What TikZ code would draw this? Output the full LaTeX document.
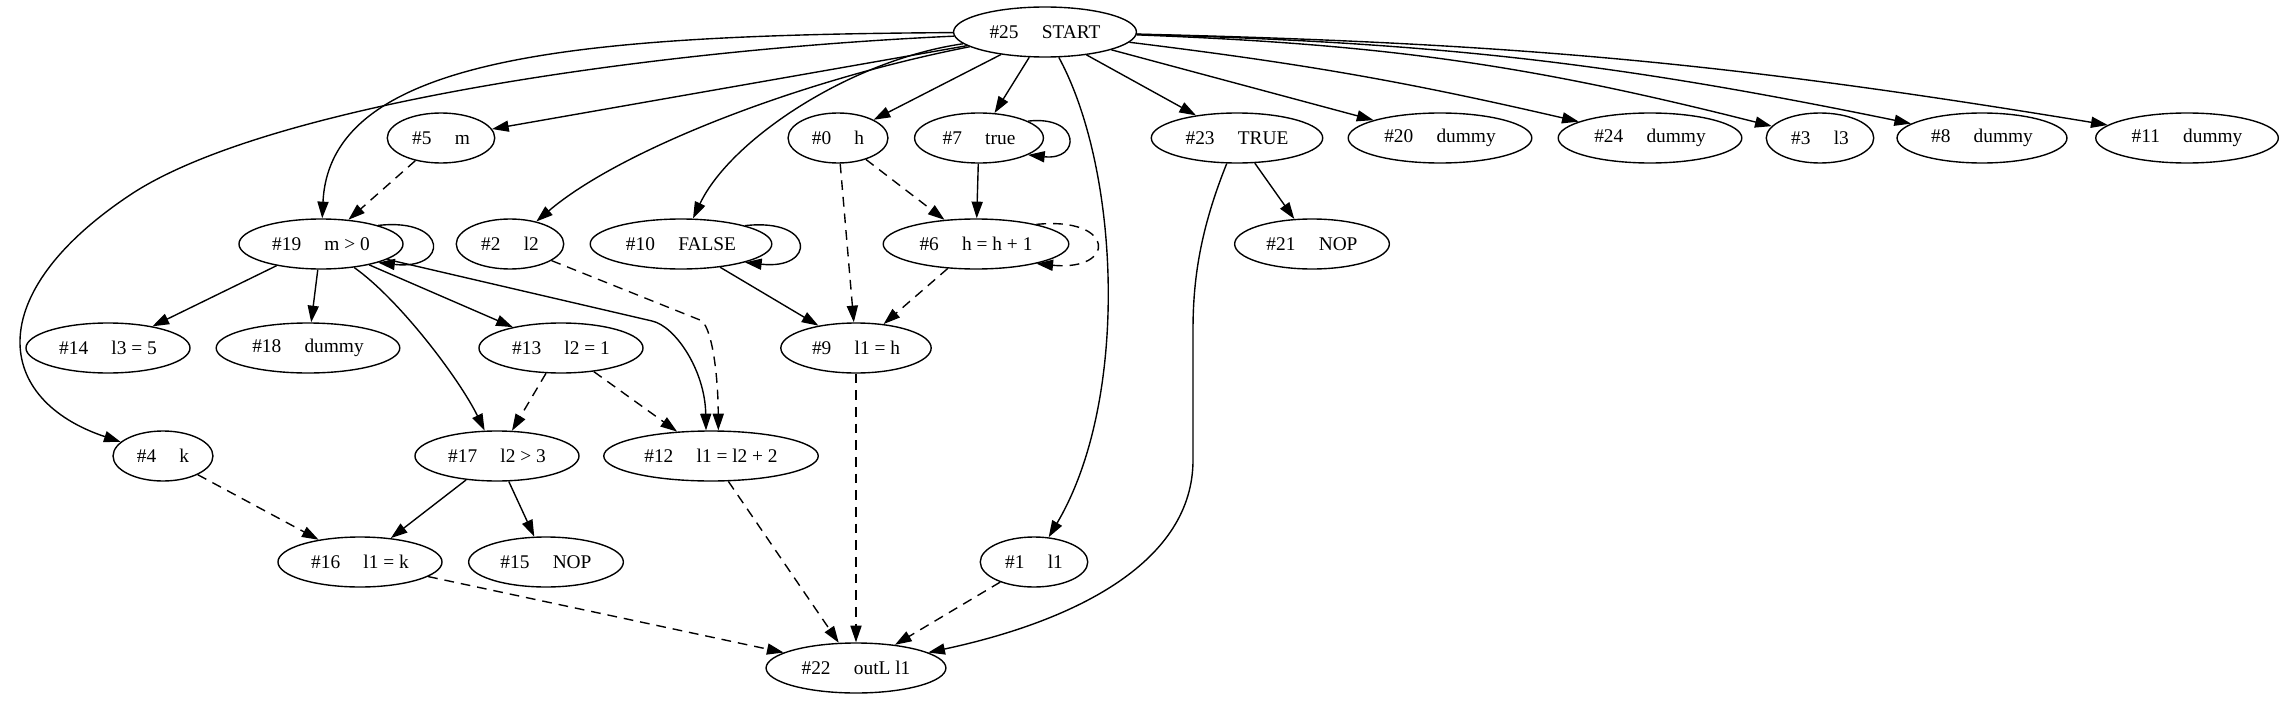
\documentclass[tikz,border=0pt]{standalone}
\usepackage{fontspec}
\setmainfont{Liberation Serif}
\usetikzlibrary{arrows.meta,shapes.geometric}

\begin{document}
\begin{tikzpicture}[
        x=0.72bp, y=-0.72bp,
        % Style for the statement nodes: ellipse, black outline
        stmt/.style={
            ellipse,
            draw=black,
            line width=1bp,
            minimum width=54bp,
            minimum height=36bp,
            inner xsep=6.6bp,
            inner ysep=2bp,
            font=\fontsize{14}{16}\selectfont
        },
        % Style for control edges: solid
        cfedge/.style={
            draw=black,
            line width=1bp,
            -{Triangle[length=12bp,width=8bp]}
        },
        % Style for data edges: dashed
        dfedge/.style={
            cfedge,
            dash pattern=on 7bp off 5bp
        }
    ]
        \useasboundingbox (0,0) rectangle (2283,701);

        % --- NODES ---
        % Root
        \node[stmt] (n25) at (1045,32) {\#25\hspace{1.2em}START};

        % Row 1
        \node[stmt] (n5)  at (441,138)  {\#5\hspace{1.2em}m};
        \node[stmt] (n0)  at (838,138)  {\#0\hspace{1.2em}h};
        \node[stmt] (n7)  at (979,138)  {\#7\hspace{1.2em}true};
        \node[stmt] (n23) at (1237,138) {\#23\hspace{1.2em}TRUE};
        \node[stmt] (n20) at (1440,138) {\#20\hspace{1.2em}dummy};
        \node[stmt] (n24) at (1650,138) {\#24\hspace{1.2em}dummy};
        \node[stmt] (n3)  at (1820,138) {\#3\hspace{1.2em}l3};
        \node[stmt] (n8)  at (1982,138) {\#8\hspace{1.2em}dummy};
        \node[stmt] (n11) at (2187,138) {\#11\hspace{1.2em}dummy};

        % Row 2
        \node[stmt] (n19) at (321,244)  {\#19\hspace{1.2em}m > 0};
        \node[stmt] (n2)  at (510,244)  {\#2\hspace{1.2em}l2};
        \node[stmt] (n10) at (681,244)  {\#10\hspace{1.2em}FALSE};
        \node[stmt] (n6)  at (976,244)  {\#6\hspace{1.2em}h = h + 1};
        \node[stmt] (n21) at (1312,244) {\#21\hspace{1.2em}NOP};

        % Row 3
        \node[stmt] (n14) at (108,348) {\#14\hspace{1.2em}l3 = 5};
        \node[stmt] (n18) at (308,348) {\#18\hspace{1.2em}dummy};
        \node[stmt] (n13) at (561,348) {\#13\hspace{1.2em}l2 = 1};
        \node[stmt] (n9)  at (856,348) {\#9\hspace{1.2em}l1 = h};

        % Row 4
        \node[stmt] (n4)  at (163,456) {\#4\hspace{1.2em}k};
        \node[stmt] (n17) at (497,456) {\#17\hspace{1.2em}l2 > 3};
        \node[stmt] (n12) at (711,456) {\#12\hspace{1.2em}l1 = l2 + 2};

        % Row 5
        \node[stmt] (n16) at (360,562)  {\#16\hspace{1.2em}l1 = k};
        \node[stmt] (n15) at (546,562)  {\#15\hspace{1.2em}NOP};
        \node[stmt] (n1)  at (1034,562) {\#1\hspace{1.2em}l1};

        % Sink
        \node[stmt] (n22) at (856,668) {\#22\hspace{1.2em}outL l1};

        % --- EDGES FROM START ---
        \draw[cfedge] (n25) .. controls (580,35) and (330,55) .. (n19);
        \draw[cfedge] (n25) .. controls (650,50) and (265,105) .. (130,195)
                            .. controls (-20,295) and (-5,400) .. (n4);
        \draw[cfedge] (n25) -- (n5);
        \draw[cfedge] (n25) .. controls (800,80) and (620,150) .. (n2);
        \draw[cfedge] (n25) .. controls (850,60) and (730,140) .. (n10);
        \draw[cfedge] (n25) -- (n0);
        \draw[cfedge] (n25) -- (n7);
        \draw[cfedge] (n25) .. controls (1120,170) and (1130,400) .. (n1);
        \draw[cfedge] (n25) -- (n23);
        \draw[cfedge] (n25) -- (n20);
        \draw[cfedge] (n25) to[bend left=3] (n24);
        \draw[cfedge] (n25) to[bend left=6] (n3);
        \draw[cfedge] (n25) to[bend left=5] (n8);
        \draw[cfedge] (n25) to[bend left=4] (n11);

        % --- LEFT PART ---
        \draw[dfedge] (n5) -- (n19);
        \draw[cfedge] (n19.18) .. controls +(71,-8) and +(71,8) .. (n19.-18);
        \draw[cfedge] (n19) -- (n14);
        \draw[cfedge] (n19) -- (n18);
        \draw[cfedge] (n19) .. controls (400,300) and (460,380) .. (n17);
        \draw[cfedge] (n19) -- (n13);
        \coordinate (k19) at (652,321);
        \draw[cfedge] (n19) -- (k19) .. controls (675,326) and (705,370) .. (n12.101);
        \coordinate (k2) at (700,320);
        \draw[dfedge] (n2) -- (k2) .. controls (711,324) and (718,370) .. (n12.74);
        \draw[dfedge] (n13) -- (n17);
        \draw[dfedge] (n13) -- (n12);
        \draw[cfedge] (n17) -- (n16);
        \draw[cfedge] (n17) -- (n15);
        \draw[dfedge] (n4) -- (n16);

        % --- MIDDLE PART ---
        \draw[cfedge] (n10.16) .. controls +(71,-8) and +(71,8) .. (n10.-16);
        \draw[cfedge] (n10) -- (n9);
        \draw[dfedge] (n0) -- (n9);
        \draw[dfedge] (n0) -- (n6);
        \draw[cfedge] (n7.19) .. controls +(53,-6) and +(53,6) .. (n7.-19);
        \draw[cfedge] (n7) -- (n6);
        \draw[dfedge] (n6.18) .. controls +(80,-8) and +(80,8) .. (n6.-18);
        \draw[dfedge] (n6) -- (n9);

        % --- INTO THE SINK ---
        \draw[dfedge] (n9) -- (n22);
        \draw[dfedge] (n16) -- (n22);
        \draw[dfedge] (n12) -- (n22);
        \draw[dfedge] (n1) -- (n22);
        \draw[cfedge] (n23) -- (n21);
        \draw[cfedge] (n23) .. controls (1200,230) and (1193,280) .. (1193,330)
                            -- (1193,460) .. controls (1193,560) and (1080,620) .. (n22);

    \end{tikzpicture}
\end{document}
